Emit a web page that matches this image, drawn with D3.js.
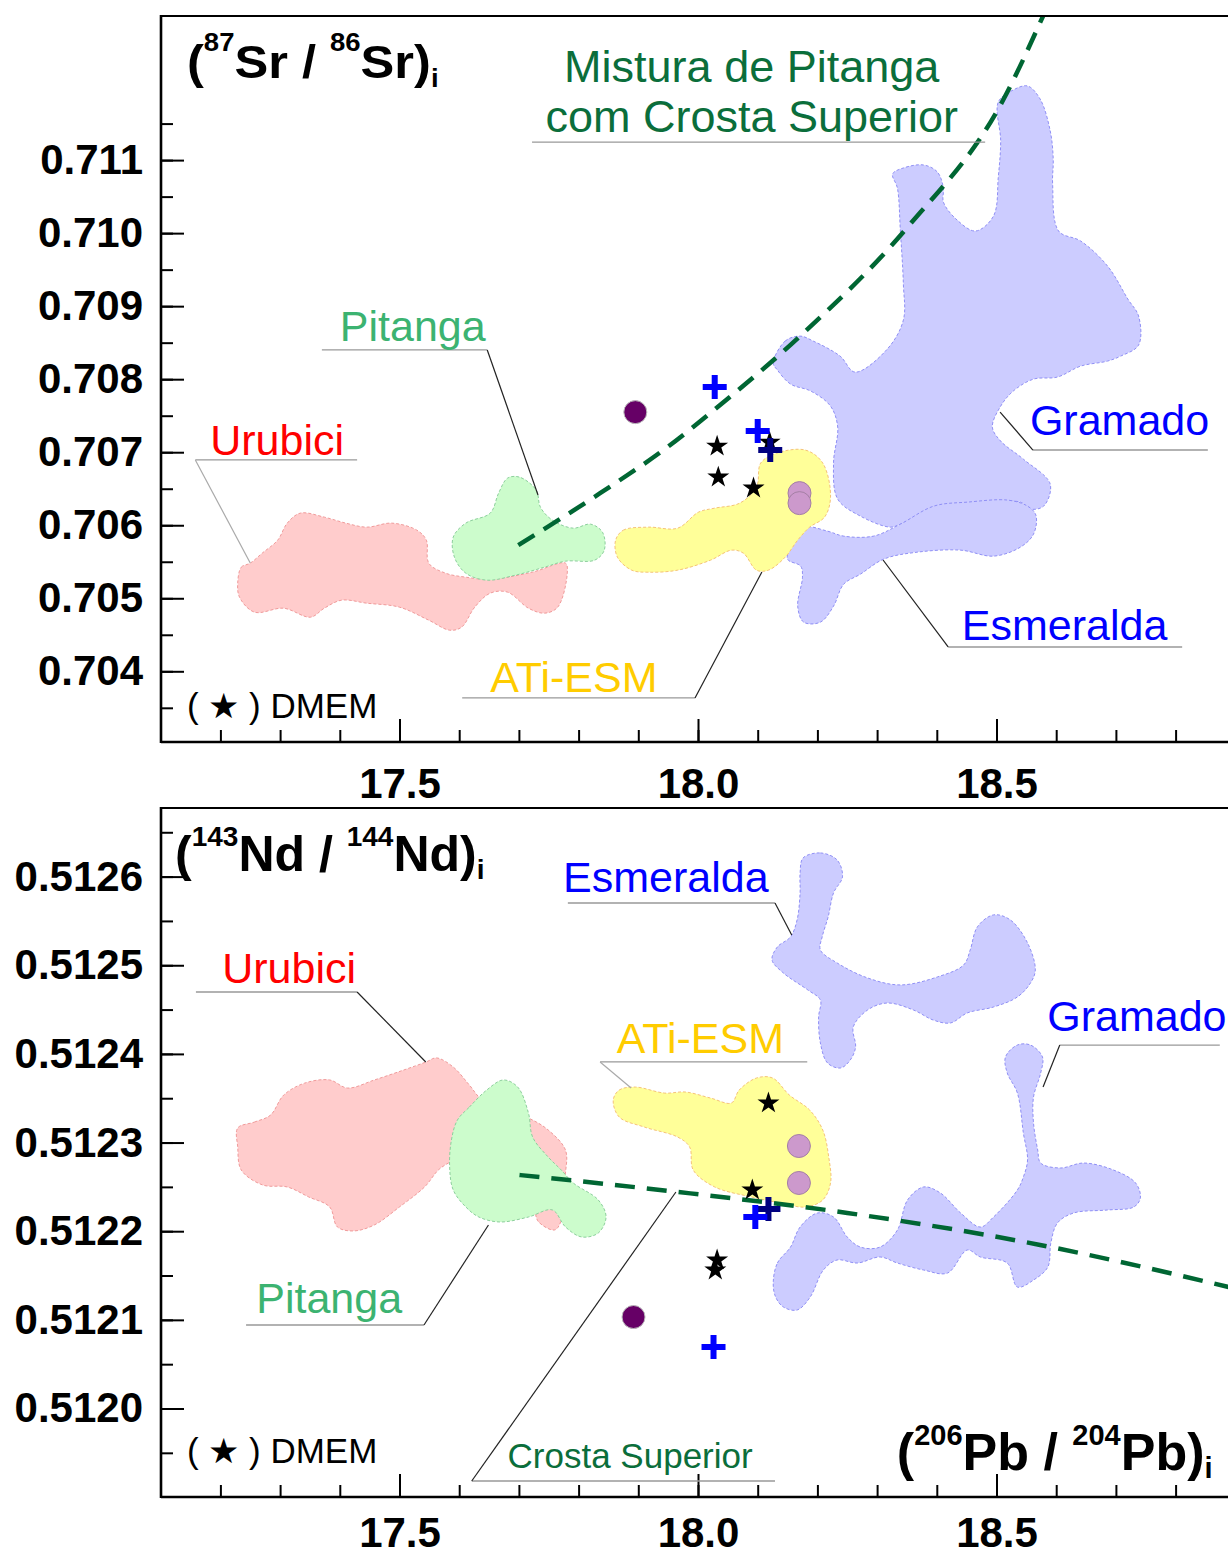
<!DOCTYPE html>
<html>
<head>
<meta charset="utf-8">
<script src="https://cdnjs.cloudflare.com/ajax/libs/d3/7.8.5/d3.min.js"></script>
<style>
  body { margin: 0; background: #fff; }
  svg text { font-family: "Liberation Sans", Arial, Helvetica, sans-serif; }
</style>
</head>
<body>
<div id="chart"></div>
<script>
// Sr-Nd-Pb isotope diagrams (two stacked panels sharing the 206Pb/204Pb axis)

//=================== DATA ==================================================
var pbTicks = [17.5, 18.0, 18.5];
var srTicks = [0.704, 0.705, 0.706, 0.707, 0.708, 0.709, 0.710, 0.711];
var ndTicks = [0.5120, 0.5121, 0.5122, 0.5123, 0.5124, 0.5125, 0.5126];

// fields, as [206Pb/204Pb, 87Sr/86Sr]
var srUrubici = [[17.229,0.705207],[17.235,0.705426],[17.250,0.705481],[17.270,0.705618],[17.296,0.705796],[17.312,0.706029],[17.334,0.706166],[17.374,0.706111],[17.410,0.706029],[17.445,0.705974],[17.487,0.706029],[17.529,0.705933],[17.545,0.705796],[17.549,0.705481],[17.577,0.705344],[17.611,0.705289],[17.652,0.705260],[17.723,0.705359],[17.778,0.705481],[17.781,0.705344],[17.765,0.704878],[17.743,0.704796],[17.716,0.704864],[17.681,0.705084],[17.652,0.705070],[17.626,0.704878],[17.604,0.704604],[17.584,0.704563],[17.549,0.704700],[17.500,0.704878],[17.445,0.704933],[17.403,0.704974],[17.374,0.704864],[17.351,0.704741],[17.306,0.704864],[17.257,0.704810],[17.232,0.705015]];
var srPitanga = [[17.590,0.705837],[17.611,0.706029],[17.652,0.706166],[17.666,0.706440],[17.681,0.706645],[17.701,0.706659],[17.729,0.706481],[17.736,0.706248],[17.756,0.706070],[17.791,0.705960],[17.820,0.706015],[17.840,0.705905],[17.843,0.705659],[17.827,0.705522],[17.778,0.705508],[17.743,0.705426],[17.694,0.705316],[17.646,0.705248],[17.611,0.705344],[17.592,0.705563]];
var srAtiEsm = [[17.862,0.705796],[17.875,0.705933],[17.917,0.705974],[17.966,0.705960],[18.001,0.706180],[18.028,0.706234],[18.070,0.706303],[18.098,0.706522],[18.105,0.706851],[18.132,0.706988],[18.180,0.707029],[18.209,0.706851],[18.222,0.706385],[18.212,0.706111],[18.187,0.705974],[18.167,0.705796],[18.146,0.705563],[18.118,0.705385],[18.098,0.705385],[18.076,0.705618],[18.056,0.705659],[18.021,0.705522],[17.966,0.705385],[17.917,0.705357],[17.889,0.705385],[17.865,0.705563]];
var srGramado = [[18.126,0.708221],[18.146,0.708522],[18.171,0.708590],[18.193,0.708522],[18.238,0.708316],[18.263,0.708097],[18.317,0.708412],[18.344,0.708810],[18.344,0.709303],[18.339,0.710029],[18.334,0.710618],[18.326,0.710810],[18.344,0.710892],[18.378,0.710933],[18.401,0.710837],[18.411,0.710618],[18.411,0.710426],[18.434,0.710179],[18.465,0.710029],[18.495,0.710234],[18.503,0.710769],[18.507,0.711262],[18.503,0.711796],[18.528,0.711960],[18.552,0.712015],[18.573,0.711837],[18.590,0.711399],[18.595,0.711015],[18.594,0.710673],[18.604,0.710029],[18.641,0.709892],[18.686,0.709549],[18.720,0.709097],[18.738,0.708864],[18.738,0.708467],[18.708,0.708316],[18.686,0.708248],[18.641,0.708179],[18.602,0.708029],[18.562,0.708001],[18.528,0.707837],[18.507,0.707631],[18.493,0.707344],[18.507,0.707152],[18.545,0.706905],[18.590,0.706563],[18.579,0.706262],[18.557,0.706221],[18.540,0.706317],[18.495,0.706317],[18.440,0.706289],[18.384,0.706193],[18.339,0.706015],[18.322,0.705974],[18.272,0.706125],[18.234,0.706358],[18.227,0.706851],[18.234,0.707344],[18.222,0.707631],[18.189,0.707837],[18.155,0.707933],[18.133,0.708125]];
var srEsmeralda = [[18.176,0.705974],[18.217,0.705919],[18.244,0.705851],[18.294,0.705851],[18.339,0.706015],[18.395,0.706262],[18.452,0.706317],[18.519,0.706344],[18.552,0.706262],[18.566,0.706138],[18.562,0.705878],[18.540,0.705700],[18.495,0.705577],[18.440,0.705659],[18.368,0.705632],[18.311,0.705536],[18.272,0.705330],[18.244,0.705193],[18.227,0.704892],[18.205,0.704673],[18.177,0.704673],[18.167,0.704892],[18.175,0.705289],[18.172,0.705440],[18.150,0.705536],[18.160,0.705782]];

// fields, as [206Pb/204Pb, 143Nd/144Nd]
var ndUrubici = [[17.229,0.5123164],[17.257,0.5123231],[17.284,0.5123310],[17.306,0.5123535],[17.341,0.5123670],[17.383,0.5123706],[17.413,0.5123615],[17.458,0.5123706],[17.507,0.5123818],[17.545,0.5123910],[17.562,0.5123955],[17.590,0.5123852],[17.617,0.5123649],[17.639,0.5123480],[17.716,0.5123277],[17.749,0.5123142],[17.778,0.5122916],[17.778,0.5122657],[17.771,0.5122386],[17.771,0.5122127],[17.760,0.5122014],[17.733,0.5122105],[17.723,0.5122274],[17.669,0.5122578],[17.602,0.5122803],[17.569,0.5122713],[17.542,0.5122499],[17.500,0.5122274],[17.458,0.5122071],[17.423,0.5122003],[17.396,0.5122048],[17.383,0.5122274],[17.348,0.5122386],[17.312,0.5122499],[17.271,0.5122521],[17.235,0.5122690],[17.229,0.5122950]];
var ndPitanga = [[17.597,0.5123254],[17.617,0.5123400],[17.646,0.5123592],[17.674,0.5123706],[17.698,0.5123626],[17.716,0.5123333],[17.723,0.5123062],[17.749,0.5122837],[17.771,0.5122690],[17.791,0.5122544],[17.833,0.5122352],[17.846,0.5122160],[17.833,0.5121980],[17.805,0.5121935],[17.778,0.5122048],[17.756,0.5122240],[17.716,0.5122160],[17.668,0.5122104],[17.633,0.5122160],[17.611,0.5122274],[17.590,0.5122465],[17.584,0.5122724],[17.587,0.5123029]];
var ndAtiEsm = [[17.858,0.5123480],[17.868,0.5123592],[17.895,0.5123626],[17.944,0.5123558],[17.979,0.5123570],[18.021,0.5123502],[18.056,0.5123446],[18.069,0.5123592],[18.098,0.5123728],[18.125,0.5123728],[18.153,0.5123536],[18.187,0.5123367],[18.209,0.5123141],[18.219,0.5122836],[18.222,0.5122544],[18.209,0.5122352],[18.180,0.5122273],[18.138,0.5122318],[18.090,0.5122386],[18.028,0.5122499],[17.992,0.5122690],[17.986,0.5122950],[17.966,0.5123062],[17.910,0.5123175],[17.868,0.5123288]];
var ndEsmeralda = [[18.176,0.5126210],[18.205,0.5126267],[18.233,0.5126188],[18.242,0.5125997],[18.227,0.5125816],[18.218,0.5125545],[18.208,0.5125320],[18.205,0.5125173],[18.233,0.5125026],[18.284,0.5124857],[18.339,0.5124778],[18.401,0.5124868],[18.445,0.5125003],[18.456,0.5125173],[18.468,0.5125433],[18.495,0.5125568],[18.523,0.5125512],[18.552,0.5125252],[18.565,0.5124947],[18.557,0.5124801],[18.535,0.5124642],[18.495,0.5124529],[18.451,0.5124462],[18.423,0.5124349],[18.394,0.5124382],[18.361,0.5124495],[18.317,0.5124574],[18.284,0.5124495],[18.260,0.5124303],[18.264,0.5124078],[18.255,0.5123931],[18.239,0.5123841],[18.217,0.5123897],[18.205,0.5124123],[18.202,0.5124416],[18.205,0.5124608],[18.184,0.5124721],[18.143,0.5124913],[18.124,0.5125060],[18.133,0.5125207],[18.155,0.5125320],[18.166,0.5125512],[18.171,0.5125816],[18.171,0.5126041]];
var ndGramado = [[18.126,0.5121415],[18.133,0.5121641],[18.155,0.5121821],[18.171,0.5122047],[18.200,0.5122205],[18.227,0.5122160],[18.250,0.5121934],[18.272,0.5121821],[18.305,0.5121821],[18.334,0.5122013],[18.351,0.5122352],[18.378,0.5122499],[18.406,0.5122431],[18.440,0.5122205],[18.473,0.5122047],[18.495,0.5122160],[18.535,0.5122465],[18.545,0.5122611],[18.552,0.5122803],[18.545,0.5123108],[18.535,0.5123559],[18.518,0.5123785],[18.515,0.5123965],[18.535,0.5124100],[18.557,0.5124100],[18.577,0.5123965],[18.574,0.5123785],[18.562,0.5123514],[18.562,0.5123221],[18.569,0.5122916],[18.574,0.5122769],[18.607,0.5122713],[18.646,0.5122769],[18.696,0.5122690],[18.733,0.5122544],[18.741,0.5122375],[18.730,0.5122273],[18.686,0.5122239],[18.629,0.5122205],[18.602,0.5122092],[18.591,0.5121867],[18.586,0.5121596],[18.562,0.5121449],[18.535,0.5121370],[18.518,0.5121641],[18.473,0.5121709],[18.451,0.5121788],[18.418,0.5121528],[18.378,0.5121562],[18.334,0.5121641],[18.305,0.5121709],[18.267,0.5121641],[18.233,0.5121675],[18.210,0.5121562],[18.188,0.5121258],[18.166,0.5121111],[18.143,0.5121145],[18.130,0.5121258]];

// samples
var srDmem = [[18.032,0.707082],[18.034,0.706658],[18.093,0.706508],[18.120,0.707136]];
var srPlusBlue = [[18.028,0.707892],[18.100,0.707289]];
var srPlusNavy = [[18.121,0.707029]];
var srPurple = [[17.895,0.707549]];
var srPink = [[18.170,0.706440],[18.170,0.706303]];

var ndDmem = [[18.118,0.5123446],[18.091,0.5122465],[18.032,0.5121675],[18.029,0.5121562]];
var ndPlusBlue = [[18.096,0.5122160],[18.026,0.5120694]];
var ndPlusNavy = [[18.118,0.5122250]];
var ndPurple = [[17.892,0.5121032]];
var ndPink = [[18.169,0.5122961],[18.169,0.5122544]];

// mixing Pitanga + upper crust
var srMixing = [[17.699,0.705727],[17.836,0.706439],[17.942,0.707029],[18.037,0.707645],[18.171,0.708590],[18.351,0.710082],[18.512,0.711836],[18.578,0.712973]];
var ndMixing = [[17.701,0.5122634],[17.966,0.5122443],[18.250,0.5122206],[18.573,0.5121845],[18.895,0.5121360]];

//=================== LAYOUT ================================================
var W = 1228, H = 1557;
var X_LEFT = 161;

var x = d3.scaleLinear().domain([17.5, 18.5]).range([399.5, 996.5]);
var ySr = d3.scaleLinear().domain([0.704, 0.711]).range([671.3, 160.1]);
var yNd = d3.scaleLinear().domain([0.5120, 0.5126]).range([1408.5, 876.6]);

var pbMinor = d3.range(172, 190).map(function (d) { return d / 10; });
var srMinor = d3.range(7035, 7120, 5).map(function (d) { return d / 10000; });
var ndMinor = d3.range(51195, 51270, 5).map(function (d) { return d / 100000; });

var FIELD_STYLE = {
    blue:   { fill: "#ccccff", stroke: "#8f8ff5" },
    pink:   { fill: "#ffcccc", stroke: "#f09a9a" },
    green:  { fill: "#ccfccc", stroke: "#8ccf9c" },
    yellow: { fill: "#ffff99", stroke: "#f5c27a" }
};

var svg = d3.select("#chart").append("svg")
    .attr("width", W)
    .attr("height", H);

var panels = [
    {
        id: "sr", top: 16, bottom: 742, y: ySr, labelPad: 26,
        major: srTicks, minor: srMinor, fmt: d3.format(".3f"),
        fields: [
            { pts: srGramado, style: "blue" },
            { pts: srEsmeralda, style: "blue" },
            { pts: srUrubici, style: "pink" },
            { pts: srPitanga, style: "green" },
            { pts: srAtiEsm, style: "yellow" }
        ],
        mixing: srMixing, dash: "19,11",
        pink: srPink, purple: srPurple, stars: srDmem, plusBlue: srPlusBlue, plusNavy: srPlusNavy,
        notes: [
            { text: "Mistura de Pitanga", at: [18.090, 0.712069], anchor: "middle", size: 45, color: "#0b6e3b" },
            { text: "com Crosta Superior", at: [18.090, 0.711384], anchor: "middle", size: 45, color: "#0b6e3b",
              under: [17.722, 18.481, 0.711247] },
            { text: "Pitanga", at: [17.400, 0.708524], color: "#3cb371",
              under: [17.370, 17.647, 0.708400], leader: [[17.647, 0.708400], [17.732, 0.706415]] },
            { text: "Urubici", at: [17.183, 0.706962], color: "#ff0000",
              under: [17.158, 17.429, 0.706894], leader: [[17.158, 0.706894], [17.250, 0.705483]], leaderColor: "#aaa" },
            { text: "Gramado", at: [18.556, 0.707236], color: "#0000ff",
              under: [18.561, 18.854, 0.707030], leader: [[18.561, 0.707030], [18.506, 0.707550]] },
            { text: "Esmeralda", at: [18.442, 0.704429], color: "#0000ff",
              under: [18.419, 18.811, 0.704333], leader: [[18.419, 0.704333], [18.310, 0.705524]] },
            { text: "ATi-ESM", at: [17.652, 0.703717], color: "#ffcc00",
              under: [17.605, 17.995, 0.703635], leader: [[17.995, 0.703635], [18.107, 0.705360]] }
        ],
        dmem: [17.144, 0.703361]
    },
    {
        id: "nd", top: 808, bottom: 1497, y: yNd, labelPad: 20,
        major: ndTicks, minor: ndMinor, fmt: d3.format(".4f"),
        fields: [
            { pts: ndEsmeralda, style: "blue" },
            { pts: ndGramado, style: "blue" },
            { pts: ndUrubici, style: "pink" },
            { pts: ndPitanga, style: "green" },
            { pts: ndAtiEsm, style: "yellow" }
        ],
        mixing: ndMixing, dash: "20,12",
        pink: ndPink, purple: ndPurple, stars: ndDmem, plusBlue: ndPlusBlue, plusNavy: ndPlusNavy,
        notes: [
            { text: "Esmeralda", at: [17.774, 0.5125826], color: "#0000ff",
              under: [17.782, 18.129, 0.5125702], leader: [[18.129, 0.5125702], [18.157, 0.5125341]] },
            { text: "Urubici", at: [17.203, 0.5124800], color: "#ff0000",
              under: [17.159, 17.429, 0.5124698], leader: [[17.429, 0.5124698], [17.544, 0.5123909]] },
            { text: "Gramado", at: [18.585, 0.5124258], color: "#0000ff",
              under: [18.606, 18.874, 0.5124100], leader: [[18.606, 0.5124100], [18.578, 0.5123627]] },
            { text: "ATi-ESM", at: [17.864, 0.5124010], color: "#ffcc00",
              under: [17.836, 18.183, 0.5123909], leader: [[17.836, 0.5123909], [17.888, 0.5123615]], leaderColor: "#aaa" },
            { text: "Pitanga", at: [17.260, 0.5121077], color: "#3cb371",
              under: [17.243, 17.541, 0.5120942], leader: [[17.541, 0.5120942], [17.649, 0.5122070]] },
            { text: "Crosta Superior", at: [17.681, 0.5119329], size: 35, color: "#0b6e3b",
              under: [17.621, 18.129, 0.5119182], leader: [[17.621, 0.5119182], [17.963, 0.5122442]] }
        ],
        dmem: [17.144, 0.5119385]
    }
];

//=================== RENDER ================================================

panels.forEach(drawPanel);

// axis titles
richText(svg.append("text").attr("transform", "translate(187,78) scale(1.1,1)"),
    [{ t: "(" }, { t: "87", sup: true }, { t: "Sr / " }, { t: "86", sup: true }, { t: "Sr)" }, { t: "i", sub: true }],
    46, 27, 9);
richText(svg.append("text").attr("x", 175).attr("y", yNd(0.5126063)),
    [{ t: "(" }, { t: "143", sup: true }, { t: "Nd / " }, { t: "144", sup: true }, { t: "Nd)" }, { t: "i", sub: true }],
    50, 25, 8);
richText(svg.append("text").attr("x", x(18.333)).attr("y", yNd(0.5119306)),
    [{ t: "(" }, { t: "206", sup: true }, { t: "Pb / " }, { t: "204", sup: true }, { t: "Pb)" }, { t: "i", sub: true }],
    52, 25, 8);


function drawPanel(p) {
    var clipId = "clip-" + p.id;
    svg.append("clipPath").attr("id", clipId)
        .append("rect")
        .attr("x", X_LEFT).attr("y", p.top)
        .attr("width", W - X_LEFT).attr("height", p.bottom - p.top);

    var plot = svg.append("g").attr("clip-path", "url(#" + clipId + ")");

    var blob = d3.line()
        .x(function (d) { return x(d[0]); })
        .y(function (d) { return p.y(d[1]); })
        .curve(d3.curveCatmullRomClosed.alpha(0.5));

    var curve = d3.line()
        .x(function (d) { return x(d[0]); })
        .y(function (d) { return p.y(d[1]); })
        .curve(d3.curveMonotoneX);

    // compositional fields
    plot.selectAll("path.field")
        .data(p.fields)
        .enter()
        .append("path")
        .attr("class", "field")
        .attr("d", function (d) { return blob(d.pts); })
        .style("fill", function (d) { return FIELD_STYLE[d.style].fill; })
        .style("stroke", function (d) { return FIELD_STYLE[d.style].stroke; })
        .style("stroke-width", 1)
        .style("stroke-dasharray", "3,2");

    // mixing curve
    plot.append("path")
        .attr("d", curve(p.mixing))
        .style("fill", "none")
        .style("stroke", "#006633")
        .style("stroke-width", 4.5)
        .style("stroke-dasharray", p.dash);

    // samples
    plot.selectAll("circle.pink")
        .data(p.pink).enter().append("circle")
        .attr("cx", function (d) { return x(d[0]); })
        .attr("cy", function (d) { return p.y(d[1]); })
        .attr("r", 11.5)
        .style("fill", "#cc99cc").style("stroke", "#a47fa4").style("stroke-width", 1);

    plot.selectAll("circle.purple")
        .data(p.purple).enter().append("circle")
        .attr("cx", function (d) { return x(d[0]); })
        .attr("cy", function (d) { return p.y(d[1]); })
        .attr("r", 11.5)
        .style("fill", "#660066").style("stroke", "#bbb").style("stroke-width", 1);

    plot.selectAll("path.star")
        .data(p.stars).enter().append("path")
        .attr("transform", function (d) { return "translate(" + x(d[0]) + "," + p.y(d[1]) + ")"; })
        .attr("d", d3.symbol(d3.symbolStar, 150))
        .style("fill", "#000");

    drawPlus(plot, p, p.plusNavy, "#000080");
    drawPlus(plot, p, p.plusBlue, "#0000ff");

    drawAxes(p);

    p.notes.forEach(function (n) { drawNote(p, n); });

    // legend for the DMEM stars
    svg.append("text")
        .attr("x", x(p.dmem[0])).attr("y", p.y(p.dmem[1]))
        .attr("font-size", 35)
        .attr("fill", "#000")
        .text("( \u2605 ) DMEM");
}


function drawPlus(plot, p, data, colour) {
    plot.selectAll(null)
        .data(data).enter().append("path")
        .attr("transform", function (d) { return "translate(" + x(d[0]) + "," + p.y(d[1]) + ")"; })
        .attr("d", "M-12,0H12M0,-12V12")
        .style("fill", "none")
        .style("stroke", colour)
        .style("stroke-width", 6);
}


function drawAxes(p) {
    // y axis, ticks pointing into the plot
    var yMinor = svg.append("g").attr("transform", "translate(" + X_LEFT + ",0)")
        .call(d3.axisLeft(p.y).tickValues(p.minor).tickFormat("").tickSizeInner(-12).tickSizeOuter(0));
    var yMajor = svg.append("g").attr("transform", "translate(" + X_LEFT + ",0)")
        .call(d3.axisLeft(p.y).tickValues(p.major).tickFormat(p.fmt)
            .tickSizeInner(-23).tickSizeOuter(0).tickPadding(18));

    // x axis
    var xMinor = svg.append("g").attr("transform", "translate(0," + p.bottom + ")")
        .call(d3.axisBottom(x).tickValues(pbMinor).tickFormat("").tickSizeInner(-12).tickSizeOuter(0));
    var xMajor = svg.append("g").attr("transform", "translate(0," + p.bottom + ")")
        .call(d3.axisBottom(x).tickValues(pbTicks).tickFormat(d3.format(".1f"))
            .tickSizeInner(-23).tickSizeOuter(0).tickPadding(p.labelPad));

    [yMinor, yMajor, xMinor, xMajor].forEach(function (a) {
        a.select(".domain").remove();
        a.selectAll(".tick line").style("stroke", "#000").style("stroke-width", 2);
        a.selectAll(".tick text")
            .attr("font-size", 42)
            .attr("font-weight", "bold")
            .attr("font-family", "Liberation Sans, Arial, sans-serif")
            .style("fill", "#000");
    });

    // frame: left axis, bottom axis, top rule
    svg.append("line")
        .attr("x1", X_LEFT).attr("x2", X_LEFT).attr("y1", p.top - 1).attr("y2", p.bottom + 1)
        .style("stroke", "#000").style("stroke-width", 2.6);
    svg.append("line")
        .attr("x1", X_LEFT).attr("x2", W).attr("y1", p.bottom).attr("y2", p.bottom)
        .style("stroke", "#000").style("stroke-width", 2.6);
    svg.append("line")
        .attr("x1", X_LEFT).attr("x2", W).attr("y1", p.top).attr("y2", p.top)
        .style("stroke", "#000").style("stroke-width", 2.2);
}


function drawNote(p, n) {
    var line = d3.line()
        .x(function (d) { return x(d[0]); })
        .y(function (d) { return p.y(d[1]); });

    if (n.under) {
        svg.append("path")
            .attr("d", line([[n.under[0], n.under[2]], [n.under[1], n.under[2]]]))
            .style("stroke", "#999").style("stroke-width", 1.3).style("fill", "none");
    }
    if (n.leader) {
        svg.append("path")
            .attr("d", line(n.leader))
            .style("stroke", n.leaderColor || "#222").style("stroke-width", 1.2).style("fill", "none");
    }
    svg.append("text")
        .attr("x", x(n.at[0])).attr("y", p.y(n.at[1]))
        .attr("text-anchor", n.anchor || "start")
        .attr("font-size", n.size || 43)
        .style("fill", n.color)
        .text(n.text);
}


// bold label with superscript mass numbers and subscript "i"
function richText(sel, parts, size, supShift, subShift) {
    var current = 0;
    sel.attr("font-weight", "bold").attr("font-size", size).style("fill", "#000");
    parts.forEach(function (part) {
        var shift = part.sup ? -supShift : (part.sub ? subShift : 0);
        sel.append("tspan")
            .attr("dy", shift - current)
            .attr("font-size", (part.sup || part.sub) ? Math.round(size * 0.55) : size)
            .text(part.t);
        current = shift;
    });
}
</script>
</body>
</html>
